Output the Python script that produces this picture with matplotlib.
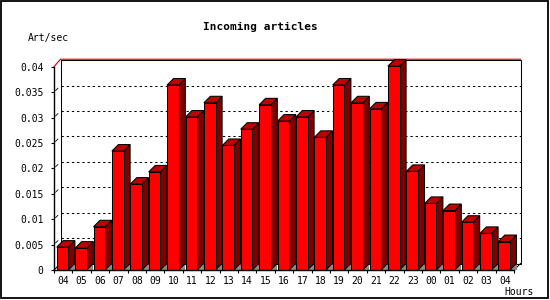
import matplotlib
matplotlib.use("Agg")
import matplotlib.pyplot as plt
from matplotlib.patches import Polygon, Rectangle
from matplotlib.ticker import FixedLocator, NullFormatter

hours = ["04", "05", "06", "07", "08", "09", "10", "11", "12", "13", "14", "15", "16",
         "17", "18", "19", "20", "21", "22", "23", "00", "01", "02", "03", "04"]
values = [0.0045, 0.0043, 0.0085, 0.0234, 0.0169, 0.0193, 0.0364, 0.0301, 0.0329,
          0.0245, 0.0277, 0.0325, 0.0293, 0.0301, 0.0261, 0.0364, 0.0329, 0.0317,
          0.0401, 0.0194, 0.0131, 0.0117, 0.0094, 0.0072, 0.0056]
yticks = [0, 0.005, 0.01, 0.015, 0.02, 0.025, 0.03, 0.035, 0.04]
ytick_labels = ["0", "0.005", "0.01", "0.015", "0.02", "0.025", "0.03", "0.035", "0.04"]
title = "Incoming articles"
ylabel = "Art/sec"
xlabel = "Hours"

W, H, DPI = 550, 300, 100
fig = plt.figure(figsize=(W / DPI, H / DPI), dpi=DPI)
fig.patch.set_facecolor("white")

# front plot rectangle in pixels
L, R, B, T = 54, 514, 270, 66.7
ax = fig.add_axes([L / W, (H - B) / H, (R - L) / W, (B - T) / H])
n = len(values)
ax.set_xlim(-0.5, n - 0.5)
ymax = 0.04
ax.set_ylim(0, ymax)
ax.patch.set_visible(False)

pxx = (R - L) / n           # pixels per x unit
pxy = (B - T) / ymax        # pixels per y unit
depth = 6.5
dx = depth / pxx
dy = depth / pxy
onepx = 1 / pxy

lw = 0.75
mono = "DejaVu Sans Mono"

# back wall
ax.add_patch(Rectangle((-0.5 + dx, dy), n, ymax, facecolor="white",
                       edgecolor="black", lw=lw, zorder=0.5, clip_on=False))
# gridlines on back wall
for v in yticks[1:-1]:
    ax.plot([-0.5 + dx, n - 0.5 + dx], [v + dy, v + dy], color="black", lw=lw,
            linestyle=(0, (2.2, 2.8)), zorder=1, clip_on=False)
    # small diagonal marks at left
    ax.plot([-0.5 + 0.25 * dx, -0.5 + 0.6 * dx], [v + 0.25 * dy, v + 0.6 * dy],
            color="black", lw=0.6, zorder=1, clip_on=False)
# red top edge
ax.plot([-0.5, -0.5 + dx, n - 0.5 + dx], [ymax, ymax + dy + onepx, ymax + dy + onepx],
        color="#cc0000", lw=0.8, zorder=1.2, clip_on=False)
# bottom diagonals
ax.plot([-0.5, -0.5 + dx], [0, dy], color="black", lw=lw, zorder=1, clip_on=False)
ax.plot([n - 0.5, n - 0.5 + dx], [0, dy], color="black", lw=lw, zorder=1, clip_on=False)

# bars
off = 2.7 / pxx
bw = 11.7 / pxx
for i, v in enumerate(values):
    x0 = i - 0.5 + off
    x1 = x0 + bw
    # floor shadow
    ax.add_patch(Polygon([(x1, 0), (x1 + dx, 0), (x1 + dx, dy)], closed=True,
                         facecolor="#8c8c8c", edgecolor="none", zorder=2, clip_on=False))
    # side
    ax.add_patch(Polygon([(x1, 0), (x1 + dx, dy), (x1 + dx, v + dy), (x1, v)], closed=True,
                         facecolor="#800000", edgecolor="black", lw=lw, zorder=3, clip_on=False))
    # top
    ax.add_patch(Polygon([(x0, v), (x0 + dx, v + dy), (x1 + dx, v + dy), (x1, v)], closed=True,
                         facecolor="#c00000", edgecolor="black", lw=lw, zorder=3, clip_on=False))
    # front
    ax.add_patch(Rectangle((x0, 0), bw, v, facecolor="#ff0000", edgecolor="black",
                           lw=lw, zorder=3.5, clip_on=False))

# spines
for s in ["top", "right"]:
    ax.spines[s].set_visible(False)
for s in ["left", "bottom"]:
    ax.spines[s].set_linewidth(1.0)
    ax.spines[s].set_zorder(4)

ax.set_yticks(yticks)
ax.set_yticklabels(ytick_labels, family=mono, fontsize=7)
ax.tick_params(axis="y", direction="out", length=2, width=0.8, pad=5.5)

ax.set_xticks(range(n))
ax.set_xticklabels(hours, family=mono, fontsize=7)
ax.tick_params(axis="x", which="major", length=0, pad=4.5)
ax.xaxis.set_minor_locator(FixedLocator([i - 0.5 for i in range(n + 1)]))
ax.xaxis.set_minor_formatter(NullFormatter())
ax.tick_params(axis="x", which="minor", direction="out", length=2.5, width=0.8)

# texts
fig.text(260 / W, 1 - 27 / H, title, ha="center", va="center", family=mono,
         fontweight="bold", fontsize=8)
fig.text(28 / W, 1 - 37.5 / H, ylabel, ha="left", va="center", family=mono, fontsize=7)
fig.text(534 / W, 1 - 292 / H, xlabel, ha="right", va="center", family=mono, fontsize=7)

# outer frame
fig.add_artist(Rectangle((0.75 / W, 1 - 297.5 / H), 547.5 / W, 296.5 / H,
                         transform=fig.transFigure, facecolor="none",
                         edgecolor="black", lw=1.3))

fig.savefig("out.png", dpi=DPI)
